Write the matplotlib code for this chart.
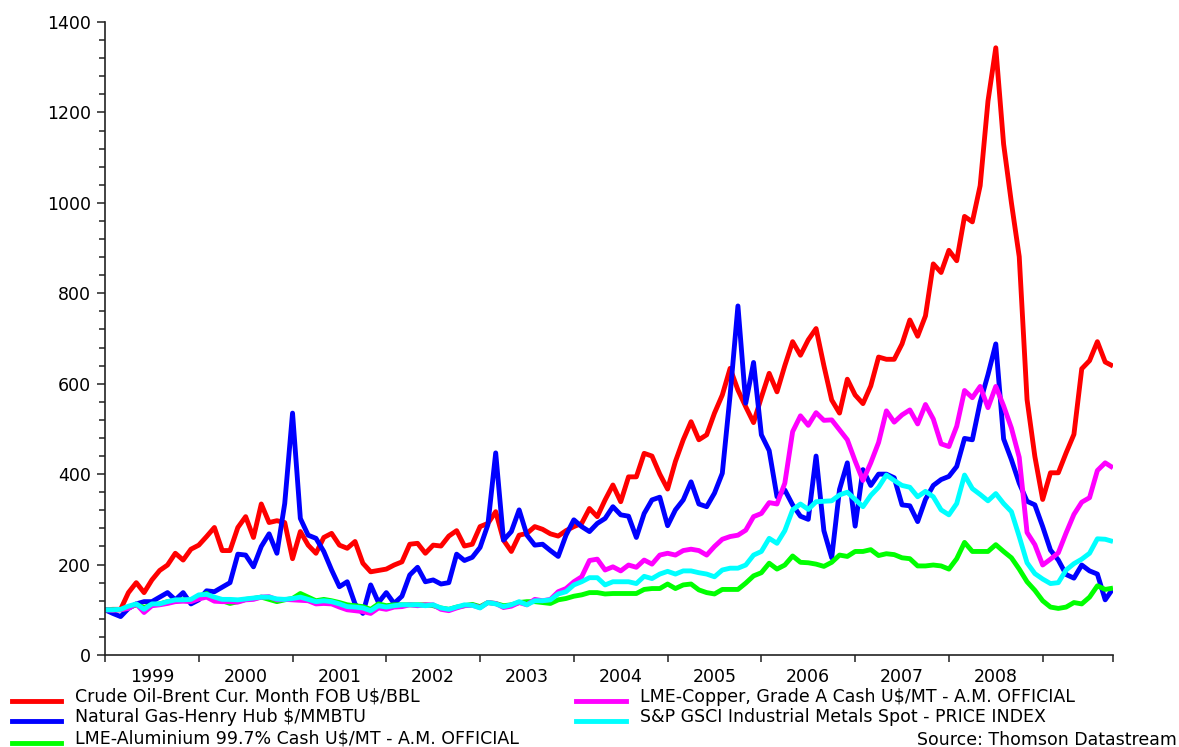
#!/usr/bin/env python

import numpy as np
import matplotlib
matplotlib.use("Agg")
import matplotlib.pyplot as plt
from matplotlib.lines import Line2D
from matplotlib.ticker import MultipleLocator, FixedLocator

# monthly, Jan 1999 = 100
years = ["1999", "2000", "2001", "2002", "2003", "2004", "2005", "2006", "2007", "2008"]

crude_oil = [
    100, 101, 101, 138, 160, 138, 166, 187, 199, 225, 210, 234,
    243, 262, 282, 231, 231, 282, 306, 260, 334, 293, 297, 293,
    213, 273, 243, 225, 260, 269, 243, 236, 251, 203, 184, 187,
    190, 199, 206, 245, 247, 225, 243, 241, 263, 275, 241, 245,
    284, 291, 317, 254, 229, 265, 269, 284, 278, 268, 263, 275,
    284, 291, 324, 306, 343, 376, 339, 394, 394, 446, 440, 400,
    367, 428, 476, 516, 476, 487, 535, 575, 634, 586, 549, 514,
    570, 623, 582, 640, 693, 663, 697, 722, 640, 564, 535, 610,
    575, 556, 595, 659, 654, 654, 688, 741, 705, 750, 865, 846,
    895, 872, 970, 958, 1038, 1225, 1343, 1130, 1000, 881, 565, 439,
    344, 403, 403, 447, 488, 633, 651, 693, 648, 639,
]
natural_gas = [
    100, 92, 85, 103, 113, 118, 118, 128, 138, 122, 138, 113,
    122, 142, 140, 150, 160, 223, 221, 195, 240, 268, 225, 335,
    535, 302, 265, 258, 229, 188, 151, 162, 113, 92, 155, 116,
    138, 114, 130, 177, 194, 162, 166, 157, 160, 223, 209, 216,
    238, 288, 447, 254, 273, 321, 265, 243, 245, 231, 218, 265,
    299, 284, 273, 291, 302, 328, 310, 307, 260, 313, 343, 349,
    286, 321, 343, 383, 334, 328, 358, 402, 575, 772, 557, 647,
    487, 452, 350, 365, 332, 307, 300, 440, 275, 215, 366, 425,
    285, 410, 375, 400, 400, 392, 332, 330, 295, 344, 375, 388,
    395, 417, 479, 476, 559, 620, 688, 478, 432, 380, 340, 332,
    284, 232, 210, 178, 170, 199, 186, 179, 122, 147,
]
aluminium = [
    100, 100, 100, 105, 111, 105, 111, 113, 118, 120, 122, 119,
    130, 136, 123, 120, 114, 118, 123, 125, 128, 123, 118, 122,
    125, 136, 128, 120, 123, 120, 116, 111, 109, 107, 101, 113,
    109, 111, 111, 111, 111, 111, 109, 104, 101, 106, 109, 112,
    107, 116, 114, 109, 111, 116, 118, 118, 116, 114, 122, 125,
    130, 133, 138, 138, 135, 136, 136, 136, 136, 145, 147, 147,
    157, 147, 155, 157, 144, 138, 135, 145, 145, 145, 159, 175,
    182, 203, 190, 199, 219, 205, 204, 201, 196, 205, 221, 218,
    229, 229, 233, 220, 224, 222, 215, 213, 197, 197, 199, 197,
    190, 213, 249, 229, 229, 229, 244, 229, 215, 190, 162, 143,
    120, 106, 103, 106, 116, 113, 128, 153, 145, 148,
]
copper = [
    100, 99, 100, 103, 113, 94, 109, 111, 114, 118, 119, 118,
    124, 128, 119, 118, 118, 117, 122, 123, 128, 129, 122, 123,
    122, 121, 120, 113, 114, 113, 106, 100, 98, 96, 92, 104,
    101, 106, 107, 111, 109, 111, 111, 101, 98, 104, 109, 110,
    105, 116, 114, 105, 108, 116, 111, 123, 120, 123, 140, 147,
    162, 173, 209, 212, 188, 195, 186, 199, 194, 210, 201, 221,
    225, 221, 231, 234, 231, 221, 240, 256, 262, 265, 276, 306,
    313, 337, 334, 380, 494, 529, 508, 536, 519, 520, 498, 476,
    429, 386, 425, 470, 540, 515, 531, 542, 511, 554, 522, 467,
    461, 506, 585, 569, 594, 547, 594, 551, 502, 437, 271, 244,
    199, 212, 226, 270, 311, 338, 348, 408, 425, 414,
]
gsci_metals = [
    100, 100, 101, 108, 113, 101, 113, 113, 118, 122, 122, 123,
    133, 134, 128, 123, 123, 122, 124, 126, 128, 128, 124, 123,
    125, 128, 123, 118, 120, 118, 113, 107, 106, 104, 98, 109,
    106, 109, 111, 111, 111, 109, 111, 104, 101, 106, 111, 110,
    104, 116, 113, 107, 111, 118, 111, 120, 120, 122, 135, 140,
    155, 162, 171, 171, 155, 162, 162, 162, 158, 174, 169, 179,
    185, 179, 186, 186, 182, 179, 173, 188, 192, 192, 199, 221,
    229, 258, 247, 275, 321, 334, 322, 339, 340, 341, 354, 360,
    344, 328, 353, 371, 398, 386, 375, 371, 350, 362, 350, 321,
    310, 335, 398, 368, 355, 341, 357, 335, 317, 262, 204, 180,
    168, 158, 160, 188, 202, 212, 225, 257, 256, 251,
]

labels = [
    "Crude Oil-Brent Cur. Month FOB U\\$/BBL",
    "Natural Gas-Henry Hub \\$/MMBTU",
    "LME-Aluminium 99.7% Cash U\\$/MT - A.M. OFFICIAL",
    "LME-Copper, Grade A Cash U\\$/MT - A.M. OFFICIAL",
    "S&P GSCI Industrial Metals Spot - PRICE INDEX",
]


def main():
    W, H = 1179, 747
    fs = 12.5
    lw = 3.5
    plt.rcParams["font.family"] = ["DejaVu Sans"]

    fig = plt.figure(figsize=(W / 100, H / 100), dpi=100)
    ax = fig.add_axes([105 / W, 1 - 655 / H, (1113 - 105) / W, (655 - 22) / H])

    series = [crude_oil, natural_gas, aluminium, copper, gsci_metals]
    colors = ["#ff0000", "#0000ff", "#00ff00", "#ff00ff", "#00ffff"]
    x = np.arange(len(crude_oil))
    for vals, c in zip(series, colors):
        ax.plot(x, vals, color=c, lw=lw, solid_joinstyle="round", solid_capstyle="butt")

    ax.set_xlim(0, len(x) - 1)
    ax.set_ylim(0, 1400)
    for s in ["top", "right"]:
        ax.spines[s].set_visible(False)
    for s in ["left", "bottom"]:
        ax.spines[s].set_linewidth(1.2)
        ax.spines[s].set_color("#222222")

    ax.yaxis.set_major_locator(MultipleLocator(200))
    ax.yaxis.set_minor_locator(MultipleLocator(40))
    ax.tick_params(axis="y", which="major", length=6, width=1.1, pad=4,
                   labelsize=fs, colors="#222222", labelcolor="black")
    ax.tick_params(axis="y", which="minor", length=4, width=1.1, colors="#222222")

    # year boundaries as ticks, year names centred between them
    bounds = list(range(0, len(x), 12)) + [len(x) - 1]
    ax.xaxis.set_major_locator(FixedLocator(bounds))
    ax.set_xticklabels([""] * len(bounds))
    ax.xaxis.set_minor_locator(FixedLocator([12 * k + 6 for k in range(len(years))]))
    ax.set_xticklabels(years, minor=True)
    ax.tick_params(axis="x", which="major", length=5, width=1.1, colors="#222222")
    ax.tick_params(axis="x", which="minor", length=0, pad=9, labelsize=fs)

    # legend, two columns under the axis
    rows = [(12, 61, 75, 700.5, 702), (12, 61, 75, 720.5, 722), (12, 61, 75, 742.5, 744),
            (576, 626, 640, 700.5, 702), (576, 626, 640, 720.5, 722)]
    for (x0, x1, tx, ly, ty), c, lab in zip(rows, colors, labels):
        fig.add_artist(Line2D([x0 / W, x1 / W], [1 - ly / H, 1 - ly / H], color=c, lw=lw,
                              transform=fig.transFigure))
        fig.text(tx / W, 1 - ty / H, lab, fontsize=fs, va="baseline", ha="left")

    fig.text(1177 / W, 1 - 745 / H, "Source: Thomson Datastream", fontsize=fs,
             va="baseline", ha="right")

    fig.savefig("out.png", dpi=100)


if __name__ == "__main__":
    main()
